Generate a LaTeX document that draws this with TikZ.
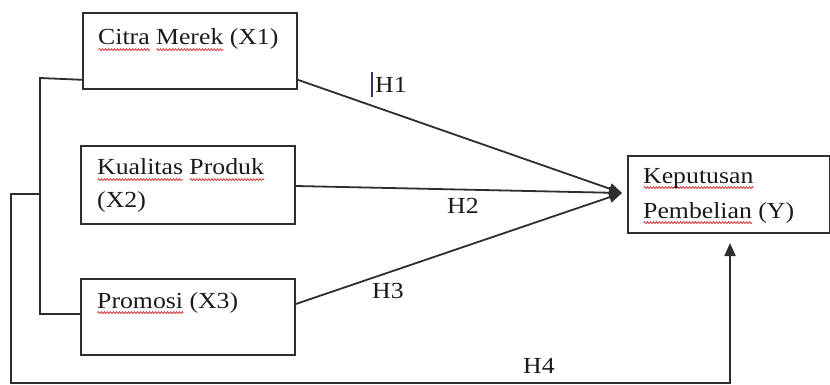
\documentclass[tikz,border=0pt]{standalone}
\usepackage{fontspec}
\setmainfont{Liberation Serif}[FakeStretch=1.12]
\usetikzlibrary{arrows.meta,calc,decorations.pathmorphing}
\definecolor{ink}{HTML}{1A1A1A}
\definecolor{wire}{HTML}{2E2E2E}
\definecolor{spell}{HTML}{D03030}
\definecolor{caret}{HTML}{2A3A6A}
% spell-check style red wavy underline under a word
\newsavebox\spellbox
\newcommand\spellmark[1]{%
  \sbox\spellbox{#1}%
  \rlap{\raisebox{-6pt}{\tikz[x=1pt,y=1pt]\draw[spell,line width=0.7pt,
      decorate,decoration={snake,amplitude=1pt,segment length=3pt}]
      (0,0) -- (\the\wd\spellbox,0);}}%
  \usebox\spellbox}
\tikzset{
  box/.style={draw=wire, line width=1.8pt, anchor=north west, inner sep=0pt},
  txt/.style={anchor=base west, inner sep=0pt, text=ink, font=\fontsize{23}{32}\selectfont},
  wireline/.style={draw=wire, line width=1.8pt},
  tip/.style={-{Triangle[length=13pt,width=11pt]}},
}
\begin{document}
\begin{tikzpicture}[x=1pt,y=-1pt]
\useasboundingbox (0,0) rectangle (830,385);

% variable boxes
\node[box, minimum width=214pt, minimum height=76pt] (x1) at (82,12) {};
\node[box, minimum width=214pt, minimum height=78pt] (x2) at (80,145) {};
\node[box, minimum width=214pt, minimum height=76pt] (x3) at (80,278) {};
\node[box, minimum width=202pt, minimum height=77pt] (y) at (627,155) {};

% box texts
\node[txt] (t1) at (98,45) {\spellmark{Citra} \spellmark{Merek} (X1)};
\node[txt] (t2a) at (97,175) {\spellmark{Kualitas} \spellmark{Produk}};
\node[txt] (t2b) at (97,207) {(X2)};
\node[txt] (t3) at (97,308) {\spellmark{Promosi} (X3)};
\node[txt] (t4a) at (643,183) {\spellmark{Keputusan}};
\node[txt] (t4b) at (643,218) {\spellmark{Pembelian} (Y)};

% converging arrows
\coordinate (meet) at (622,193);
\coordinate (e1) at ($(x1.south east)+(0,-10)$);
\coordinate (e2) at ($(x2.north east)+(0,41)$);
\coordinate (e3) at ($(x3.north east)+(0,26)$);
\draw[wireline, tip] (e1) -- (meet);
\draw[wireline, tip] (e2) -- (meet);
\draw[wireline, tip] (e3) -- (meet);

% bracket joining X1 and X3, and the joint path to Y
\coordinate (w1) at ($(x1.south west)+(0,-10)$);
\coordinate (w3) at ($(x3.north west)+(0,36)$);
\coordinate (j) at (40,194);
\draw[wireline] (w1) -- (40,78) -- (40,314) -- (w3);
\coordinate (ybelow) at (730,243);
\draw[wireline, tip] (j) -- (11,194) -- (11,383) -- (730,383) -- (ybelow);

% hypothesis labels
\draw[caret, line width=1.8pt] (372,72) -- (372,97);
\node[txt] (h1) at (375,93) {H1};
\node[txt] (h2) at (447,213) {H2};
\node[txt] (h3) at (372,298) {H3};
\node[txt] (h4) at (523,373) {H4};
\end{tikzpicture}
\end{document}
